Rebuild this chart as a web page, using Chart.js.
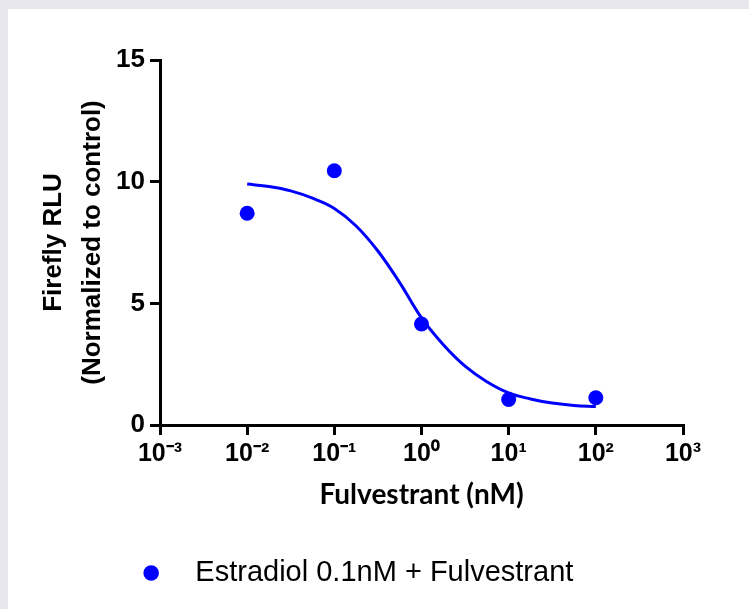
<!DOCTYPE html>
<html>
<head>
<meta charset="utf-8">
<script src="https://cdn.jsdelivr.net/npm/chart.js@4.4.0/dist/chart.umd.min.js"></script>
<style>
  html, body { margin: 0; padding: 0; background: #e8e6ed; }
  #panel { position: absolute; left: 8px; top: 9px; width: 741px; height: 600px; background: #fff; }
  #chart { position: absolute; left: 0; top: 0; }
</style>
</head>
<body>
<div id="panel"></div>
<canvas id="chart" width="749" height="609"></canvas>
<script>
// measured points (dose in nM, normalized RLU)
const doses = [0.01, 0.1, 1, 10, 100];
const rlu = [8.7, 10.45, 4.15, 1.05, 1.12];

// fitted curve
const fitDoses = [0.01, 0.0178, 0.0316, 0.0562, 0.1, 0.178, 0.316, 0.562, 1, 1.78, 3.16, 5.62, 10, 17.8, 31.6, 56.2, 100];
const fitRlu = [9.9, 9.8, 9.62, 9.32, 8.9, 8.18, 7.15, 5.85, 4.4, 3.3, 2.42, 1.78, 1.32, 1.07, 0.9, 0.8, 0.76];

const xTicks = [0.001, 0.01, 0.1, 1, 10, 100, 1000];
const xTickLabels = ['10⁻³', '10⁻²', '10⁻¹', '10⁰', '10¹', '10²', '10³'];
const yTicks = [0, 5, 10, 15];

const seriesName = 'Estradiol 0.1nM + Fulvestrant';
const blue = '#0000ff';

// nudge legend to the right like the original
const legendShift = {
  id: 'legendShift',
  afterLayout(chart) {
    chart.legend.left += 18;
    chart.legend.right += 18;
  }
};

new Chart(document.getElementById('chart'), {
  type: 'scatter',
  data: {
    datasets: [{
      label: '   ' + seriesName,
      data: doses.map((d, i) => ({ x: d, y: rlu[i] })),
      backgroundColor: blue,
      borderColor: blue,
      borderWidth: 0,
      pointRadius: 7.5,
      pointStyle: 'circle'
    }, {
      label: 'fit',
      data: fitDoses.map((d, i) => ({ x: d, y: fitRlu[i] })),
      showLine: true,
      borderColor: blue,
      borderWidth: 3,
      pointRadius: 0,
      tension: 0.4,
      fill: false
    }]
  },
  options: {
    responsive: false,
    animation: false,
    layout: { padding: { left: 0, top: 60, right: 66, bottom: 11.5 } },
    plugins: {
      tooltip: { enabled: false },
      legend: {
        position: 'bottom',
        labels: {
          usePointStyle: true,
          boxWidth: 11,
          boxHeight: 11,
          padding: 10,
          color: '#000',
          font: { family: '"Liberation Sans", Arial, sans-serif', size: 29 },
          filter: item => item.datasetIndex === 0
        }
      }
    },
    scales: {
      x: {
        type: 'logarithmic',
        min: 0.001,
        max: 1000,
        afterBuildTicks: s => { s.ticks = xTicks.map(v => ({ value: v })); },
        afterFit: s => { s.height = 123.5; },
        border: { display: true, color: '#000', width: 3 },
        grid: { display: true, drawOnChartArea: false, color: '#000', lineWidth: 3, tickLength: 10 },
        ticks: {
          color: '#000',
          padding: 4,
          maxRotation: 0,
          autoSkip: false,
          font: { family: '"Liberation Sans", Arial, sans-serif', size: 25, weight: 'bold' },
          callback: (v, i) => xTickLabels[i]
        },
        title: {
          display: true,
          text: 'Fulvestrant (nM)',
          color: '#000',
          font: { family: 'Lato, "Open Sans", sans-serif', size: 28, weight: 'bold', lineHeight: 1.2 },
          padding: { top: 0, bottom: 36.7 }
        }
      },
      y: {
        min: 0,
        max: 15,
        afterBuildTicks: s => { s.ticks = yTicks.map(v => ({ value: v })); },
        afterFit: s => { s.width = 160; },
        border: { display: true, color: '#000', width: 3 },
        grid: { display: true, drawOnChartArea: false, color: '#000', lineWidth: 3, tickLength: 10 },
        ticks: {
          color: '#000',
          padding: 5,
          font: { family: '"Liberation Sans", Arial, sans-serif', size: 26, weight: 'bold' }
        },
        title: {
          display: true,
          text: ['Firefly RLU', '(Normalized to control)'],
          color: '#000',
          font: { family: '"Liberation Sans", Arial, sans-serif', size: 26, weight: 'bold', lineHeight: 1.5 },
          padding: { top: 34.5, bottom: 0 }
        }
      }
    }
  },
  plugins: [legendShift]
});
</script>
</body>
</html>
